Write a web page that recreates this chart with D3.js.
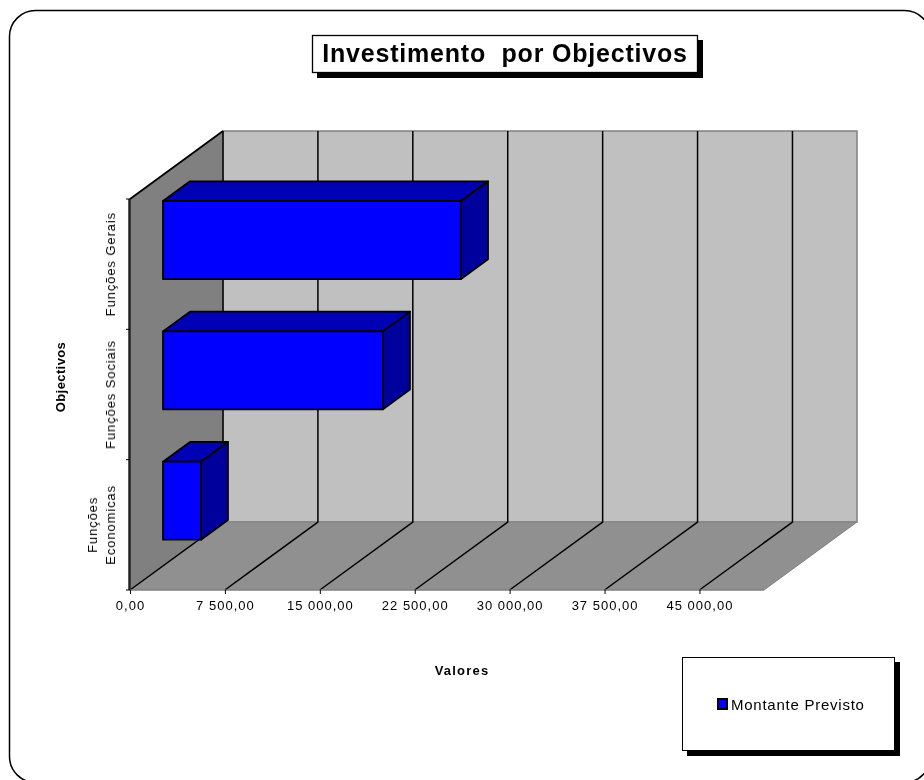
<!DOCTYPE html>
<html>
<head>
<meta charset="utf-8">
<script src="https://d3js.org/d3.v7.min.js"></script>
<style>
  html, body { margin: 0; padding: 0; background: #fff; overflow: hidden; }
  svg { display: block; }
  text { font-family: "Liberation Sans", Arial, sans-serif; fill: #000; filter: blur(0.3px); }
</style>
</head>
<body>
<svg width="924" height="780"></svg>
<script>
'use strict';

const categories = ['Funções Economicas', 'Funções Sociais', 'Funções Gerais']
const values = [3000, 17380, 23550]
const xTicks = [0, 7500, 15000, 22500, 30000, 37500, 45000]
const xTickLabels = ['0,00', '7 500,00', '15 000,00', '22 500,00', '30 000,00', '37 500,00', '45 000,00']

const svg = d3.select('svg')

const x = d3.scaleLinear().domain([0, 50100]).range([130, 764])
const y = d3.scaleBand().domain(categories).range([590, 199]).paddingInner(0).paddingOuter(0)

// oblique depth of the fake 3D box
const depthX = 93
const depthY = -68
const px = (v, d) => x(v) + depthX * d
const py = (yy, d) => yy + depthY * d
const poly = (pts) => d3.line()(pts) + 'Z'

// outer rounded frame, runs off the right and bottom of the page
svg.append('rect')
  .attr('x', 9.5)
  .attr('y', 10.5)
  .attr('width', 921)
  .attr('height', 772)
  .attr('rx', 26)
  .style('fill', 'none')
  .style('stroke', '#000')
  .style('stroke-width', 1.5)

const box = svg.append('g')
const [x0, x1] = x.domain()
const yTop = y.range()[1]
const yBot = y.range()[0]

// back wall
box.append('path')
  .attr('d', poly([[px(x0, 1), py(yTop, 1)], [px(x1, 1), py(yTop, 1)], [px(x1, 1), py(yBot, 1)], [px(x0, 1), py(yBot, 1)]]))
  .style('fill', '#c0c0c0')
  .style('stroke', '#808080')
  .style('stroke-width', 1.5)
// side wall
box.append('path')
  .attr('d', poly([[px(x0, 0), py(yTop, 0)], [px(x0, 1), py(yTop, 1)], [px(x0, 1), py(yBot, 1)], [px(x0, 0), py(yBot, 0)]]))
  .style('fill', '#808080')
// floor
box.append('path')
  .attr('d', poly([[px(x0, 0), py(yBot, 0)], [px(x1, 0), py(yBot, 0)], [px(x1, 1), py(yBot, 1)], [px(x0, 1), py(yBot, 1)]]))
  .style('fill', '#909090')
  .style('stroke', '#808080')
  .style('stroke-width', 1)

// gridlines
const grid = svg.append('g')
grid.selectAll('path')
  .data(xTicks)
  .enter()
  .append('path')
  .attr('d', (d) => d3.line()([[px(d, 0), py(yBot, 0)], [px(d, 1), py(yBot, 1)], [px(d, 1), py(yTop, 1)]]))
  .style('fill', 'none')
  .style('stroke', '#000')
  .style('stroke-width', 1.5)

// left edge and slanted top of the side wall
svg.append('path')
  .attr('d', d3.line()([[px(x0, 1), py(yTop, 1)], [px(x0, 0), py(yTop, 0)]]))
  .style('fill', 'none')
  .style('stroke', '#000')
  .style('stroke-width', 1.8)
svg.append('path')
  .attr('d', d3.line()([[px(x0, 0) - 0.5, py(yTop, 0)], [px(x0, 0) - 0.5, py(yBot, 0)]]))
  .style('fill', 'none')
  .style('stroke', '#222')
  .style('stroke-width', 2.5)

// bars, front face sits 35.5% into the depth and the box is 29% deep
const dFront = 0.355
const dBack = 0.645
const barH = 78
const bars = svg.append('g').selectAll('g')
  .data(categories.map((c, i) => ({ c, v: values[i] })))
  .enter()
  .append('g')
  .style('stroke', '#000')
  .style('stroke-width', 1.8)
  .style('stroke-linejoin', 'round')

const barBot = (d) => y(d.c) + y.bandwidth() / 2 + barH / 2
const barTop = (d) => y(d.c) + y.bandwidth() / 2 - barH / 2

bars.append('path')
  .attr('d', (d) => poly([
    [px(0, dFront), py(barTop(d), dFront)],
    [px(0, dBack), py(barTop(d), dBack)],
    [px(d.v, dBack), py(barTop(d), dBack)],
    [px(d.v, dFront), py(barTop(d), dFront)]]))
  .style('fill', '#0000b4')
bars.append('path')
  .attr('d', (d) => poly([
    [px(d.v, dFront), py(barTop(d), dFront)],
    [px(d.v, dBack), py(barTop(d), dBack)],
    [px(d.v, dBack), py(barBot(d), dBack)],
    [px(d.v, dFront), py(barBot(d), dFront)]]))
  .style('fill', '#00009c')
bars.append('path')
  .attr('d', (d) => poly([
    [px(0, dFront), py(barTop(d), dFront)],
    [px(d.v, dFront), py(barTop(d), dFront)],
    [px(d.v, dFront), py(barBot(d), dFront)],
    [px(0, dFront), py(barBot(d), dFront)]]))
  .style('fill', '#0000ff')

// value axis
const xAxis = d3.axisBottom(x)
  .tickValues(xTicks)
  .tickFormat((d, i) => xTickLabels[i])
  .tickSize(4)
  .tickPadding(7)
const xAxisG = svg.append('g').attr('transform', `translate(0,${yBot})`).call(xAxis)
xAxisG.select('.domain').attr('stroke-width', 1).attr('d', `M${x(x0)},0H${x(x1)}`).attr('stroke', '#808080')
xAxisG.selectAll('text')
  .style('font-size', '13px')
  .style('letter-spacing', '1px')
  .style('font-family', '"Liberation Sans", Arial, sans-serif')

// category axis, ticks only
const catTicks = svg.append('g')
catTicks.selectAll('line')
  .data([y.range()[0], y.range()[0] - y.bandwidth(), y.range()[0] - 2 * y.bandwidth(), y.range()[1]])
  .enter()
  .append('line')
  .attr('x1', x(0) - 4)
  .attr('x2', x(0))
  .attr('y1', (d) => d)
  .attr('y2', (d) => d)
  .style('stroke', '#000')

const catLabels = svg.append('g')
catLabels.selectAll('text')
  .data(categories)
  .enter()
  .append('text')
  .attr('transform', (d) => `translate(${d === categories[0] ? 97 : 115},${y(d) + y.bandwidth() / 2}) rotate(-90)`)
  .attr('text-anchor', 'middle')
  .style('font-size', '13px')
  .style('letter-spacing', '0.9px')
  .each(function(d) {
    if (d === categories[0]) {
      const parts = d.split(' ')
      d3.select(this).selectAll('tspan').data(parts).enter().append('tspan')
        .attr('x', 0)
        .attr('dy', (p, i) => (i === 0 ? 0 : 18))
        .text((p) => p)
    } else {
      d3.select(this).text(d)
    }
  })

// axis titles
svg.append('text')
  .attr('transform', 'translate(65,377) rotate(-90)')
  .attr('text-anchor', 'middle')
  .style('font-size', '13px')
  .style('font-weight', 'bold')
  .style('letter-spacing', '0.4px')
  .text('Objectivos')
svg.append('text')
  .attr('x', 462)
  .attr('y', 675)
  .attr('text-anchor', 'middle')
  .style('font-size', '13px')
  .style('font-weight', 'bold')
  .style('letter-spacing', '1.2px')
  .text('Valores')

// title box
svg.append('rect').attr('x', 317).attr('y', 40).attr('width', 386).attr('height', 38).style('fill', '#000')
svg.append('rect').attr('x', 312.5).attr('y', 35.5).attr('width', 385).attr('height', 37).style('fill', '#fff').style('stroke', '#000').style('stroke-width', 1.3)
svg.append('text')
  .attr('x', 505)
  .attr('y', 62)
  .attr('text-anchor', 'middle')
  .style('font-size', '25px')
  .style('font-weight', 'bold')
  .style('letter-spacing', '0.8px')
  .style('white-space', 'pre')
  .text('Investimento  por Objectivos')

// legend box
svg.append('rect').attr('x', 687).attr('y', 662).attr('width', 213).attr('height', 94).style('fill', '#000')
svg.append('rect').attr('x', 682.5).attr('y', 657.5).attr('width', 212).attr('height', 93).style('fill', '#fff').style('stroke', '#000').style('stroke-width', 1)
svg.append('rect').attr('x', 718).attr('y', 699).attr('width', 9).attr('height', 10).style('fill', '#0000ff').style('stroke', '#000').style('stroke-width', 2)
svg.append('text')
  .attr('x', 731)
  .attr('y', 709.5)
  .style('font-size', '15px')
  .style('letter-spacing', '0.75px')
  .text('Montante Previsto')
</script>
</body>
</html>
